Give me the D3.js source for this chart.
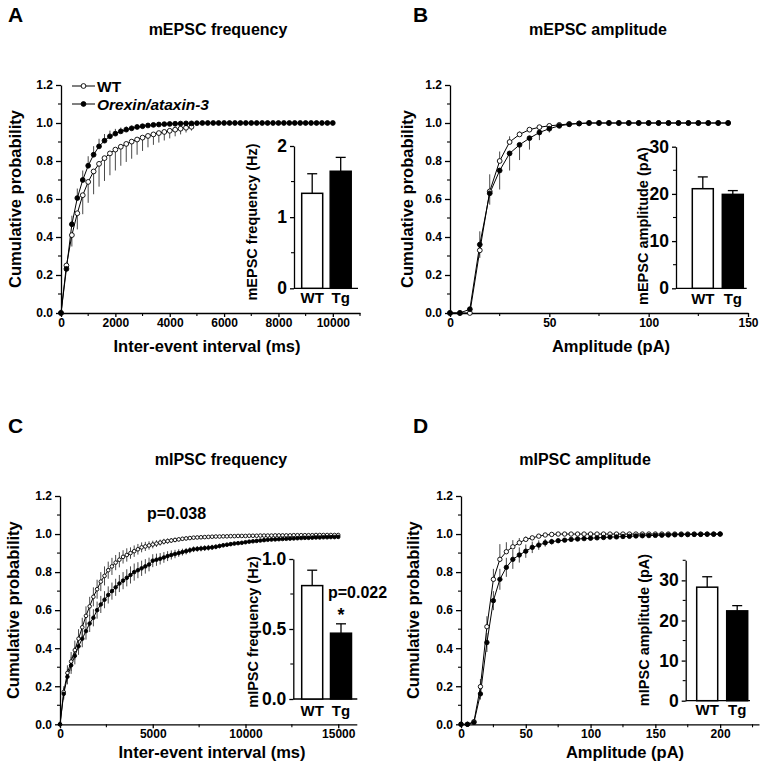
<!DOCTYPE html>
<html>
<head>
<meta charset="utf-8">
<script src="https://cdn.jsdelivr.net/npm/d3@7/dist/d3.min.js"></script>
<style>
  html, body { margin: 0; padding: 0; background: #fff; }
  svg { display: block; }
  text { font-family: "Liberation Sans", Arial, Helvetica, sans-serif; font-weight: bold; fill: #000; }
</style>
</head>
<body>
<script>
// ---------------- DATA ----------------
// Panel A: mEPSC inter-event interval (ms), bins of 200 ms
const aStep = 200;
const aWT = [0, 0.25, 0.41, 0.525, 0.62, 0.69, 0.745, 0.785, 0.815, 0.84, 0.86, 0.875, 0.89, 0.902, 0.913, 0.923, 0.932, 0.94, 0.947, 0.953, 0.959, 0.965, 0.97, 0.975, 0.98];
const aWTerr = [0, 0.03, 0.06, 0.085, 0.10, 0.11, 0.12, 0.12, 0.12, 0.115, 0.11, 0.10, 0.095, 0.09, 0.08, 0.07, 0.06, 0.055, 0.05, 0.045, 0.04, 0.035, 0.03, 0.025, 0.02];
const aTg = [0, 0.232, 0.467, 0.605, 0.70, 0.775, 0.833, 0.877, 0.907, 0.93, 0.944, 0.956, 0.965, 0.972, 0.979, 0.983, 0.987, 0.99, 0.992, 0.994, 0.995, 0.996, 0.997, 0.998, 0.998, 0.999,
  1, 1, 1, 1, 1, 1, 1, 1, 1, 1, 1, 1, 1, 1, 1, 1, 1, 1, 1, 1, 1, 1, 1, 1, 1];
const aTgErr = [0, 0.03, 0.045, 0.05, 0.05, 0.05, 0.045, 0.04, 0.035, 0.03, 0.025, 0.02, 0.017, 0.014, 0.012, 0.01, 0.008, 0.006, 0.005, 0.004, 0.003, 0.002, 0.002, 0.001, 0.001, 0.001,
  0, 0, 0, 0, 0, 0, 0, 0, 0, 0, 0, 0, 0, 0, 0, 0, 0, 0, 0, 0, 0, 0, 0, 0, 0];
const aBarLabels = ["WT", "Tg"];
const aBarValues = [1.335, 1.645];
const aBarErr = [0.275, 0.195];

// Panel B: mEPSC amplitude (pA), bins of 5 pA
const bStep = 5;
const bWT = [0, 0, 0, 0.33, 0.64, 0.80, 0.90, 0.94, 0.965, 0.978, 0.985, 0.99, 0.995, 0.998, 1, 1, 1, 1, 1, 1, 1, 1, 1, 1, 1, 1, 1, 1, 1];
const bWTerr = [0, 0, 0, 0.10, 0.09, 0.05, 0.03, 0.015, 0.01, 0.005, 0.005, 0, 0, 0, 0, 0, 0, 0, 0, 0, 0, 0, 0, 0, 0, 0, 0, 0, 0];
const bTg = [0, 0, 0.02, 0.36, 0.63, 0.75, 0.84, 0.885, 0.92, 0.95, 0.97, 0.985, 0.993, 0.997, 1, 1, 1, 1, 1, 1, 1, 1, 1, 1, 1, 1, 1, 1, 1];
const bTgErr = [0, 0, 0.01, 0.07, 0.06, 0.10, 0.09, 0.08, 0.06, 0.04, 0.02, 0.01, 0.005, 0, 0, 0, 0, 0, 0, 0, 0, 0, 0, 0, 0, 0, 0, 0, 0];
const bBarLabels = ["WT", "Tg"];
const bBarValues = [21.1, 19.9];
const bBarErr = [2.5, 0.8];

// Panel C: mIPSC inter-event interval (ms), bins of 200 ms
const cStep = 200;
const cWT = [0, 0.17, 0.27, 0.33, 0.39, 0.45, 0.51, 0.57, 0.62, 0.67,
  0.71, 0.75, 0.78, 0.81, 0.83, 0.85, 0.865, 0.88, 0.89, 0.90,
  0.91, 0.92, 0.93, 0.935, 0.94, 0.945, 0.95, 0.955, 0.96, 0.963,
  0.966, 0.969, 0.972, 0.975, 0.977, 0.979, 0.981, 0.982, 0.983, 0.984,
  0.985, 0.986, 0.987, 0.987, 0.988, 0.988, 0.989, 0.989, 0.99, 0.99,
  0.99, 0.991, 0.991, 0.991, 0.992, 0.992, 0.992, 0.992, 0.993, 0.993,
  0.993, 0.993, 0.993, 0.994, 0.994, 0.994, 0.994, 0.994, 0.994, 0.995,
  0.995, 0.995, 0.995, 0.995, 0.995, 0.995];
const cWTerr = [0, 0.03, 0.04, 0.05, 0.05, 0.05, 0.05, 0.05, 0.05, 0.05,
  0.05, 0.05, 0.05, 0.045, 0.045, 0.04, 0.04, 0.035, 0.035, 0.03,
  0.03, 0.028, 0.026, 0.024, 0.022, 0.02, 0.018, 0.016, 0.015, 0.014,
  0.013, 0.012, 0.011, 0.01, 0.01, 0.009, 0.008, 0.008, 0.007, 0.007,
  0.006, 0.006, 0.006, 0.005, 0.005, 0.005, 0.005, 0.005, 0.005, 0.004,
  0.004, 0.004, 0.004, 0.004, 0.004, 0.004, 0.004, 0.004, 0.004, 0.004,
  0.004, 0.004, 0.004, 0.004, 0.004, 0.004, 0.004, 0.004, 0.004, 0.004,
  0.004, 0.004, 0.004, 0.004, 0.004, 0.004];
const cTg = [0, 0.16, 0.25, 0.31, 0.36, 0.41, 0.45, 0.49, 0.53, 0.56,
  0.60, 0.63, 0.655, 0.68, 0.70, 0.72, 0.74, 0.755, 0.77, 0.785,
  0.80, 0.81, 0.82, 0.83, 0.84, 0.86, 0.865, 0.87, 0.877, 0.884,
  0.89, 0.895, 0.90, 0.905, 0.91, 0.915, 0.92, 0.922, 0.924, 0.926,
  0.928, 0.93, 0.933, 0.937, 0.941, 0.944, 0.947, 0.95, 0.952, 0.954,
  0.957, 0.96, 0.962, 0.964, 0.966, 0.968, 0.97, 0.971, 0.972, 0.973,
  0.974, 0.975, 0.976, 0.977, 0.978, 0.979, 0.98, 0.98, 0.981, 0.982,
  0.982, 0.983, 0.983, 0.984, 0.984, 0.985];
const cTgErr = [0, 0.03, 0.04, 0.045, 0.045, 0.045, 0.045, 0.045, 0.045, 0.045,
  0.045, 0.045, 0.045, 0.045, 0.045, 0.045, 0.045, 0.045, 0.045, 0.045,
  0.045, 0.042, 0.04, 0.038, 0.036, 0.034, 0.032, 0.03, 0.028, 0.026,
  0.024, 0.022, 0.02, 0.018, 0.017, 0.016, 0.015, 0.015, 0.015, 0.015,
  0.015, 0.014, 0.013, 0.012, 0.011, 0.01, 0.01, 0.009, 0.009, 0.008,
  0.008, 0.007, 0.007, 0.007, 0.006, 0.006, 0.006, 0.006, 0.005, 0.005,
  0.005, 0.005, 0.005, 0.005, 0.005, 0.004, 0.004, 0.004, 0.004, 0.004,
  0.004, 0.004, 0.004, 0.004, 0.004, 0.004];
const cBarLabels = ["WT", "Tg"];
const cBarValues = [0.81, 0.47];
const cBarErr = [0.11, 0.067];

// Panel D: mIPSC amplitude (pA), bins of 5 pA
const dStep = 5;
const dWT = [0, 0, 0.014, 0.198, 0.513, 0.762, 0.867, 0.907, 0.933, 0.954,
  0.972, 0.98, 0.989, 0.995, 0.998, 1, 1, 1, 1, 1,
  1, 1, 1, 1, 1, 1, 1, 1, 1, 1,
  1, 1, 1, 1, 1, 1, 1, 1, 1, 1, 1];
const dWTerr = [0, 0, 0.005, 0.04, 0.055, 0.055, 0.08, 0.05, 0.035, 0.025,
  0.015, 0.01, 0.005, 0.003, 0, 0, 0, 0, 0, 0,
  0, 0, 0, 0, 0, 0, 0, 0, 0, 0,
  0, 0, 0, 0, 0, 0, 0, 0, 0, 0, 0];
const dTg = [0, 0, 0.01, 0.16, 0.43, 0.65, 0.762, 0.825, 0.867, 0.89,
  0.91, 0.93, 0.942, 0.954, 0.96, 0.965, 0.968, 0.972, 0.974, 0.976,
  0.978, 0.98, 0.982, 0.984, 0.985, 0.987, 0.988, 0.99, 0.991, 0.992,
  0.993, 0.994, 0.995, 0.996, 0.997, 0.997, 0.998, 0.998, 0.999, 0.999, 1.0];
const dTgErr = [0, 0, 0.005, 0.03, 0.05, 0.05, 0.055, 0.05, 0.05, 0.04,
  0.035, 0.03, 0.025, 0.02, 0.015, 0.012, 0.01, 0.008, 0.006, 0.005,
  0.004, 0.004, 0.003, 0.003, 0.003, 0.002, 0.002, 0.002, 0.002, 0.002,
  0.001, 0.001, 0.001, 0.001, 0.001, 0.001, 0, 0, 0, 0, 0];
const dBarLabels = ["WT", "Tg"];
const dBarValues = [28.3, 22.4];
const dBarErr = [2.6, 1.3];

const yTickValues = [0, 0.2, 0.4, 0.6, 0.8, 1.0, 1.2];
const legendLabels = ["WT", "Orexin/ataxin-3"];

// ---------------- DRAWING ----------------
const W = 764, H = 769;
const svg = d3.select("body").append("svg").attr("width", W).attr("height", H);

function styleAxis(g, sw) {
  g.selectAll("path.domain").attr("stroke", "#000").attr("stroke-width", sw);
  g.selectAll(".tick line").attr("stroke", "#000").attr("stroke-width", sw);
  g.selectAll(".tick text").attr("fill", "#000").style("font-weight", "bold");
}

function seriesPoints(values, err, step) {
  return values.map((v, i) => ({ x: i * step, v: v, e: err[i] }));
}

function drawPanel(o) {
  const g = svg.append("g");
  const x = d3.scaleLinear().domain(o.xDomain).range(o.xRange);
  const y = d3.scaleLinear().domain([0, 1.2]).range(o.yRange);

  // Y axis
  const ya = g.append("g").attr("transform", `translate(${o.xRange[0]},0)`)
    .call(d3.axisLeft(y).tickValues(yTickValues).tickFormat(d3.format(".1f")).tickSize(5).tickPadding(3).tickSizeOuter(0));
  ya.selectAll(".tick text").style("font-size", "12px");
  styleAxis(ya, 1.3);
  ya.append("g").selectAll("line").data(o.yMinor).join("line")
    .attr("x1", 0).attr("x2", -3).attr("y1", d => y(d)).attr("y2", d => y(d))
    .attr("stroke", "#000").attr("stroke-width", 1.1);

  // X axis
  const xa = g.append("g").attr("transform", `translate(0,${o.yRange[0]})`)
    .call(d3.axisBottom(x).tickValues(o.xTicks).tickFormat(d3.format("d")).tickSize(4).tickPadding(1).tickSizeOuter(0));
  xa.selectAll(".tick text").style("font-size", "12px");
  styleAxis(xa, 1.3);
  xa.append("g").selectAll("line").data(o.xMinor).join("line")
    .attr("x1", d => x(d)).attr("x2", d => x(d)).attr("y1", 0).attr("y2", 3)
    .attr("stroke", "#000").attr("stroke-width", 1.1);

  // Axis labels
  g.append("text").attr("transform", `translate(${o.yLabelX},${(o.yRange[0] + o.yRange[1]) / 2}) rotate(-90)`)
    .attr("text-anchor", "middle").attr("dy", "0.35em").style("font-size", "16.5px").text("Cumulative probability");
  g.append("text").attr("x", o.xLabelX).attr("y", o.xLabelY)
    .attr("text-anchor", "middle").style("font-size", "16.5px").text(o.xLabel);

  // Title and letter
  g.append("text").attr("x", o.titleX).attr("y", o.titleY).attr("text-anchor", "middle")
    .style("font-size", "16px").text(o.title);
  g.append("text").attr("x", o.letterX).attr("y", o.letterY)
    .style("font-size", "21px").text(o.letter);

  // Series
  const line = d3.line().x(d => x(d.x)).y(d => y(d.v));
  o.series.forEach(s => {
    const pts = seriesPoints(s.values, s.err, o.step).filter(d => d.e > 0);
    g.append("g").selectAll("line").data(pts).join("line")
      .attr("x1", d => x(d.x)).attr("x2", d => x(d.x))
      .attr("y1", d => s.dir === "down" ? y(d.v) : y(d.v + d.e))
      .attr("y2", d => s.dir === "up" ? y(d.v) : y(d.v - d.e))
      .attr("stroke", "#333").attr("stroke-width", 0.9);
  });
  o.series.forEach(s => {
    const pts = seriesPoints(s.values, s.err, o.step);
    g.append("path").datum(pts).attr("d", line).attr("fill", "none").attr("stroke", "#000").attr("stroke-width", 1);
  });
  o.series.forEach(s => {
    const pts = seriesPoints(s.values, s.err, o.step);
    g.append("g").selectAll("circle").data(pts).join("circle")
      .attr("cx", d => x(d.x)).attr("cy", d => y(d.v)).attr("r", o.r)
      .attr("fill", s.filled ? "#000" : "#fff").attr("stroke", "#000").attr("stroke-width", 0.9);
  });

  // Inset bar chart
  const ins = o.inset;
  const iy = d3.scaleLinear().domain([0, ins.yMax]).range([ins.y0, ins.yTop]);
  const ig = g.append("g");
  const iya = ig.append("g").attr("transform", `translate(${ins.axisX},0)`)
    .call(d3.axisLeft(iy).tickValues(ins.ticks).tickFormat(ins.fmt).tickSize(4).tickPadding(3).tickSizeOuter(0));
  iya.selectAll(".tick text").style("font-size", "17.5px");
  styleAxis(iya, 1.3);
  iya.append("g").selectAll("line").data(ins.minor).join("line")
    .attr("x1", 0).attr("x2", -3).attr("y1", d => iy(d)).attr("y2", d => iy(d))
    .attr("stroke", "#000").attr("stroke-width", 1.1);
  ig.append("line").attr("x1", ins.axisX).attr("x2", ins.axisEnd).attr("y1", ins.y0).attr("y2", ins.y0)
    .attr("stroke", "#000").attr("stroke-width", 1.3);
  const ix = d3.scaleOrdinal().domain(ins.labels).range(ins.barX);
  ins.labels.forEach((lab, i) => {
    const bx = ix(lab);
    const top = iy(ins.values[i]);
    const etop = iy(ins.values[i] + ins.err[i]);
    const cx = bx + ins.barW / 2;
    ig.append("line").attr("x1", cx).attr("x2", cx).attr("y1", top).attr("y2", etop).attr("stroke", "#000").attr("stroke-width", 1.3);
    ig.append("line").attr("x1", cx - 5).attr("x2", cx + 5).attr("y1", etop).attr("y2", etop).attr("stroke", "#000").attr("stroke-width", 1.3);
    ig.append("rect").attr("x", bx).attr("y", top).attr("width", ins.barW).attr("height", ins.y0 - top)
      .attr("fill", i === 0 ? "#fff" : "#000").attr("stroke", "#000").attr("stroke-width", 1.5);
    ig.append("text").attr("x", cx).attr("y", ins.y0 + ins.labelDy).attr("text-anchor", "middle")
      .style("font-size", "15px").text(lab);
  });
  ig.append("text").attr("transform", `translate(${ins.labelX},${ins.labelY}) rotate(-90)`)
    .attr("text-anchor", "middle").attr("dy", "0.35em").style("font-size", "14.5px").text(ins.yLabel);
  return { g, x, y, iy, ix };
}

// Panel A
const pA = drawPanel({
  letter: "A", letterX: 8, letterY: 22, title: "mEPSC frequency", titleX: 218, titleY: 35,
  xDomain: [0, 11000], xRange: [61, 360], yRange: [313, 85],
  xTicks: [0, 2000, 4000, 6000, 8000, 10000], xMinor: [1000, 3000, 5000, 7000, 9000, 11000],
  yMinor: [0.1, 0.3, 0.5, 0.7, 0.9, 1.1],
  yLabelX: 15, xLabel: "Inter-event interval (ms)", xLabelX: 207, xLabelY: 352,
  step: aStep, r: 2.4,
  series: [
    { values: aWT, err: aWTerr, dir: "down", filled: false },
    { values: aTg, err: aTgErr, dir: "up", filled: true }
  ],
  inset: { axisX: 294, axisEnd: 358, y0: 288.3, yTop: 146, yMax: 2, ticks: [0, 1, 2], minor: [0.5, 1.5], fmt: d3.format("d"),
    labels: aBarLabels, values: aBarValues, err: aBarErr, barX: [301.7, 330.2], barW: 21, labelDy: 15,
    yLabel: "mEPSC frequency (Hz)", labelX: 252, labelY: 222 }
});
// legend for A
(function () {
  const lg = pA.g.append("g");
  const rows = [{ y: 86, filled: false }, { y: 104, filled: true }];
  rows.forEach((r, i) => {
    lg.append("line").attr("x1", 72).attr("x2", 95).attr("y1", r.y).attr("y2", r.y).attr("stroke", "#000").attr("stroke-width", 1);
    lg.append("circle").attr("cx", 83.5).attr("cy", r.y).attr("r", 2.4).attr("fill", r.filled ? "#000" : "#fff").attr("stroke", "#000").attr("stroke-width", 0.9);
    lg.append("text").attr("x", 97).attr("y", r.y + 5.5).style("font-size", "15.5px")
      .style("font-style", i === 1 ? "italic" : "normal").text(legendLabels[i]);
  });
})();

// Panel B
drawPanel({
  letter: "B", letterX: 413, letterY: 22, title: "mEPSC amplitude", titleX: 598, titleY: 35,
  xDomain: [0, 150], xRange: [450, 748], yRange: [313, 85],
  xTicks: [0, 50, 100, 150], xMinor: [25, 75, 125],
  yMinor: [0.1, 0.3, 0.5, 0.7, 0.9, 1.1],
  yLabelX: 407, xLabel: "Amplitude (pA)", xLabelX: 611, xLabelY: 352,
  step: bStep, r: 2.4,
  series: [
    { values: bWT, err: bWTerr, dir: "up", filled: false },
    { values: bTg, err: bTgErr, dir: "down", filled: true }
  ],
  inset: { axisX: 676, axisEnd: 746.7, y0: 288.3, yTop: 146.7, yMax: 30, ticks: [0, 10, 20, 30], minor: [5, 15, 25], fmt: d3.format("d"),
    labels: bBarLabels, values: bBarValues, err: bBarErr, barX: [692.3, 722.3], barW: 21, labelDy: 15.5,
    yLabel: "mEPSC amplitude (pA)", labelX: 643, labelY: 226 }
});

// Panel C
const pC = drawPanel({
  letter: "C", letterX: 8, letterY: 433, title: "mIPSC frequency", titleX: 221, titleY: 465,
  xDomain: [0, 16000], xRange: [60, 356.8], yRange: [724.3, 496],
  xTicks: [0, 5000, 10000, 15000], xMinor: [2500, 7500, 12500],
  yMinor: [0.1, 0.3, 0.5, 0.7, 0.9, 1.1],
  yLabelX: 13, xLabel: "Inter-event interval (ms)", xLabelX: 212, xLabelY: 758,
  step: cStep, r: 1.8,
  series: [
    { values: cWT, err: cWTerr, dir: "both", filled: false },
    { values: cTg, err: cTgErr, dir: "both", filled: true }
  ],
  inset: { axisX: 293.3, axisEnd: 357.3, y0: 699, yTop: 559, yMax: 1.0, ticks: [0, 0.5, 1.0], minor: [0.25, 0.75], fmt: d3.format(".1f"),
    labels: cBarLabels, values: cBarValues, err: cBarErr, barX: [301.7, 330.5], barW: 21, labelDy: 17,
    yLabel: "mIPSC frequency (Hz)", labelX: 253, labelY: 632 }
});
pC.g.append("text").attr("x", 147).attr("y", 519).style("font-size", "16px").text("p=0.038");
pC.g.append("text").attr("x", 328).attr("y", 598).style("font-size", "16px").text("p=0.022");
pC.g.append("text").attr("x", 341).attr("y", 621).attr("text-anchor", "middle").style("font-size", "18px").text("*");

// Panel D
drawPanel({
  letter: "D", letterX: 413, letterY: 433, title: "mIPSC amplitude", titleX: 585, titleY: 465,
  xDomain: [0, 230], xRange: [461, 759], yRange: [724.3, 496],
  xTicks: [0, 50, 100, 150, 200], xMinor: [25, 75, 125, 175, 225],
  yMinor: [0.1, 0.3, 0.5, 0.7, 0.9, 1.1],
  yLabelX: 413, xLabel: "Amplitude (pA)", xLabelX: 625, xLabelY: 758,
  step: dStep, r: 2.2,
  series: [
    { values: dWT, err: dWTerr, dir: "up", filled: false },
    { values: dTg, err: dTgErr, dir: "both", filled: true }
  ],
  inset: { axisX: 685.7, axisEnd: 750, y0: 700.7, yTop: 560.3, yMax: 35, ticks: [0, 10, 20, 30], minor: [5, 15, 25, 35], fmt: d3.format("d"),
    labels: dBarLabels, values: dBarValues, err: dBarErr, barX: [696.7, 726.7], barW: 21, labelDy: 14.5,
    yLabel: "mIPSC amplitude (pA)", labelX: 644, labelY: 630 }
});
</script>
</body>
</html>
